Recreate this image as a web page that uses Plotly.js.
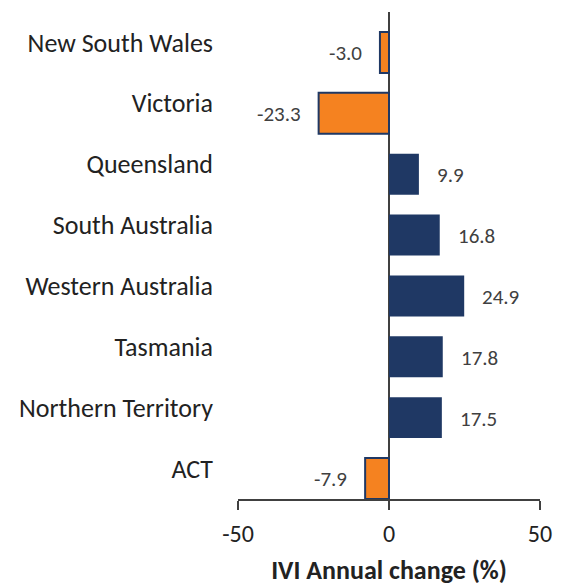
<!DOCTYPE html>
<html>
<head>
<meta charset="utf-8">
<script src="https://cdn.plot.ly/plotly-3.0.1.min.js"></script>
<style>html,body{margin:0;padding:0;background:#fff;}#chart{width:569px;height:586px;}</style>
</head>
<body>
<div id="chart"></div>
<script>
const categories = ["New South Wales","Victoria","Queensland","South Australia","Western Australia","Tasmania","Northern Territory","ACT"];
const values = [-3.0, -23.3, 9.9, 16.8, 24.9, 17.8, 17.5, -7.9];
const xTicks = [-50, 0, 50];

const FONT = "Carlito, Lato, sans-serif";
const NAVY = "#1F3864";
const ORANGE = "#F58220";

const trace = {
  type: "bar",
  orientation: "h",
  y: categories,
  x: values,
  marker: {
    color: values.map(v => v < 0 ? ORANGE : NAVY),
    line: {color: NAVY, width: values.map(v => v < 0 ? 2 : 0)}
  },
  hoverinfo: "skip"
};

const annotations = values.map((v, i) => ({
  x: v, y: categories[i], xref: "x", yref: "y",
  text: v.toFixed(1),
  showarrow: false,
  xanchor: v < 0 ? "right" : "left",
  xshift: v < 0 ? -16 : 16,
  yshift: -1,
  font: {family: FONT, size: 21, color: "#404040"}
}));

const layout = {
  width: 569, height: 586,
  margin: {l: 238, r: 29, t: 12, b: 87},
  paper_bgcolor: "#fff", plot_bgcolor: "#fff",
  showlegend: false,
  bargap: 0.327,
  font: {family: FONT, color: "#404040"},
  xaxis: {
    range: [-50, 50],
    tickvals: xTicks,
    ticktext: xTicks.map(String),
    showgrid: false,
    zeroline: true, zerolinecolor: "#404040", zerolinewidth: 1.5,
    showline: true, linecolor: "#404040", linewidth: 1.5,
    ticks: "outside", ticklen: 9, tickcolor: "#404040", tickwidth: 1.5,
    ticklabelstandoff: 4,
    tickfont: {family: FONT, size: 24, color: "#222"},
    title: {text: "<b>IVI Annual change (%)</b>", font: {family: FONT, size: 26, color: "#222"}, standoff: 16}
  },
  yaxis: {
    type: "category",
    range: [7.337, -0.665],
    showgrid: false, zeroline: false, showline: false,
    ticks: "", ticklabelstandoff: 24, ticklabelshift: 10,
    tickfont: {family: FONT, size: 26, color: "#222"}
  },
  annotations: annotations
};

Plotly.newPlot("chart", [trace], layout, {displayModeBar: false, staticPlot: true});
</script>
</body>
</html>
